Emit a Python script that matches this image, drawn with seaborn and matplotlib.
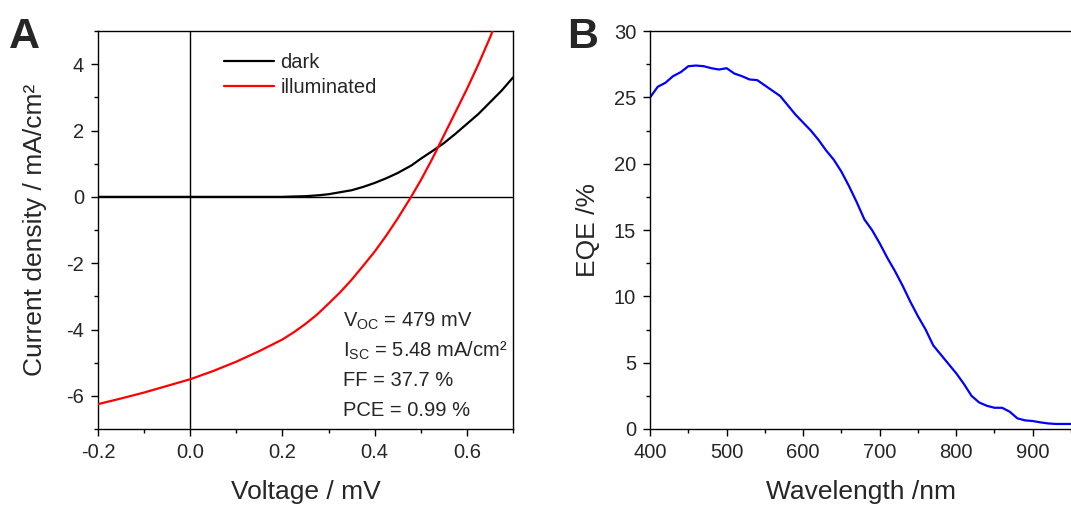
import numpy as np
import pandas as pd
import matplotlib
matplotlib.use("Agg")
import matplotlib.pyplot as plt
import seaborn as sns
from matplotlib.ticker import MultipleLocator

# ---- data ----
v_dark = [-0.2, -0.1, 0.0, 0.1, 0.2, 0.22, 0.25, 0.28, 0.3, 0.325, 0.35, 0.375, 0.4, 0.425,
          0.45, 0.48, 0.5, 0.525, 0.55, 0.575, 0.6, 0.625, 0.65, 0.675, 0.7]
j_dark = [0.0, 0.0, 0.0, 0.0, 0.0, 0.01, 0.02, 0.05, 0.08, 0.14, 0.2, 0.3, 0.42, 0.56,
          0.72, 0.95, 1.15, 1.38, 1.62, 1.9, 2.2, 2.5, 2.85, 3.2, 3.6]

v_ill = [-0.2, -0.15, -0.1, -0.05, 0.0, 0.05, 0.1, 0.15, 0.2, 0.225, 0.25, 0.275, 0.3, 0.325,
         0.35, 0.375, 0.4, 0.425, 0.45, 0.479, 0.5, 0.525, 0.55, 0.575, 0.6, 0.625, 0.65, 0.66]
j_ill = [-6.25, -6.08, -5.9, -5.7, -5.5, -5.25, -4.97, -4.65, -4.3, -4.08, -3.83, -3.55, -3.22, -2.88,
         -2.5, -2.08, -1.65, -1.17, -0.65, 0.0, 0.5, 1.15, 1.85, 2.55, 3.25, 4.0, 4.8, 5.15]

wl = [400, 410, 420, 430, 440, 450, 460, 470, 480, 490, 500, 510, 520, 530, 540, 550,
      560, 570, 580, 590, 600, 610, 620, 630, 640, 650, 660, 670, 680, 690, 700, 710,
      720, 730, 740, 750, 760, 770, 780, 790, 800, 810, 820, 830, 840, 850, 860, 870,
      880, 890, 900, 910, 920, 930, 940, 950]
eqe = [25.0, 25.8, 26.1, 26.6, 26.9, 27.35, 27.4, 27.35, 27.2, 27.1, 27.2, 26.8, 26.6, 26.35, 26.3, 25.9,
       25.5, 25.1, 24.4, 23.7, 23.1, 22.5, 21.8, 21.0, 20.3, 19.4, 18.3, 17.1, 15.8, 15.0, 14.0, 12.9,
       11.9, 10.8, 9.6, 8.5, 7.5, 6.3, 5.6, 4.9, 4.2, 3.4, 2.5, 2.0, 1.75, 1.6, 1.6, 1.3,
       0.8, 0.65, 0.6, 0.5, 0.42, 0.38, 0.38, 0.38]

labels_iv = ["dark", "illuminated"]
stats = [r"V$_{\mathrm{OC}}$ = 479 mV", r"I$_{\mathrm{SC}}$ = 5.48 mA/cm²", "FF = 37.7 %", "PCE = 0.99 %"]

# ---- style ----
sns.set_style("ticks")
plt.rcParams["font.family"] = ["Liberation Sans", "DejaVu Sans"]
plt.rcParams["mathtext.fontset"] = "custom"
plt.rcParams["mathtext.rm"] = "Liberation Sans"
plt.rcParams["mathtext.it"] = "Liberation Sans"
plt.rcParams["axes.linewidth"] = 1.0
plt.rcParams["axes.edgecolor"] = "black"

fig = plt.figure(figsize=(10.71, 5.05), dpi=100)
axA = fig.add_axes([0.0915, 0.1505, 0.3875, 0.788])
axB = fig.add_axes([0.607, 0.1505, 0.393, 0.788])

TICK = 14.5
LAB = 19
TXT = 14.5

# ---- panel A ----
iv = pd.concat([
    pd.DataFrame({"V": v_dark, "J": j_dark, "cond": labels_iv[0]}),
    pd.DataFrame({"V": v_ill, "J": j_ill, "cond": labels_iv[1]}),
])
axA.axhline(0, color="black", lw=1.0, zorder=1)
axA.axvline(0, color="black", lw=1.0, zorder=1)
sns.lineplot(data=iv, x="V", y="J", hue="cond", palette=["black", "#ff0000"],
             ax=axA, lw=1.6, sort=False, estimator=None, zorder=3)
axA.set_xlim(-0.2, 0.7)
axA.set_ylim(-7, 5)
axA.xaxis.set_minor_locator(MultipleLocator(0.1))
axA.yaxis.set_minor_locator(MultipleLocator(1))
axA.set_xticks([-0.2, 0.0, 0.2, 0.4, 0.6])
axA.set_xticklabels(["-0.2", "0.0", "0.2", "0.4", "0.6"])
axA.set_yticks([-6, -4, -2, 0, 2, 4])
axA.set_yticklabels(["-6", "-4", "-2", "0", "2", "4"])
axA.set_xlabel("Voltage / mV", fontsize=LAB, labelpad=13)
axA.set_ylabel("Current density / mA/cm²", fontsize=LAB, labelpad=14)
leg = axA.legend(frameon=False, fontsize=TXT, loc="upper left",
                 bbox_to_anchor=(0.265, 0.985), handlelength=2.5, handletextpad=0.3,
                 labelspacing=0.3, borderaxespad=0.4)
for t, txt in enumerate(stats):
    axA.text(0.59, 0.27 - t * 0.0745, txt, transform=axA.transAxes, fontsize=TXT,
             va="center", ha="left")
axA.text(-0.215, 0.985, "A", transform=axA.transAxes, fontsize=31, fontweight="bold",
         va="center", ha="left")

# ---- panel B ----
eq = pd.DataFrame({"wl": wl, "eqe": eqe})
sns.lineplot(data=eq, x="wl", y="eqe", color="#0000ff", lw=1.6, ax=axB)
axB.set_xlim(400, 950)
axB.set_ylim(0, 30)
axB.xaxis.set_minor_locator(MultipleLocator(50))
axB.yaxis.set_minor_locator(MultipleLocator(2.5))
axB.set_xticks([400, 500, 600, 700, 800, 900])
axB.set_yticks([0, 5, 10, 15, 20, 25, 30])
axB.spines["right"].set_visible(False)
axB.set_xlabel("Wavelength /nm", fontsize=LAB, labelpad=13)
axB.set_ylabel("EQE /%", fontsize=LAB, labelpad=10)
axB.text(-0.197, 0.985, "B", transform=axB.transAxes, fontsize=31, fontweight="bold",
         va="center", ha="left")

for ax in (axA, axB):
    ax.tick_params(which="major", direction="out", length=5, width=1.0, labelsize=TICK,
                   top=False, right=False, color="black", pad=5)
    ax.tick_params(which="minor", direction="out", length=3, width=1.0,
                   top=False, right=False, color="black")
    for s in ax.spines.values():
        s.set_color("black")

fig.savefig("out.png", dpi=100)
